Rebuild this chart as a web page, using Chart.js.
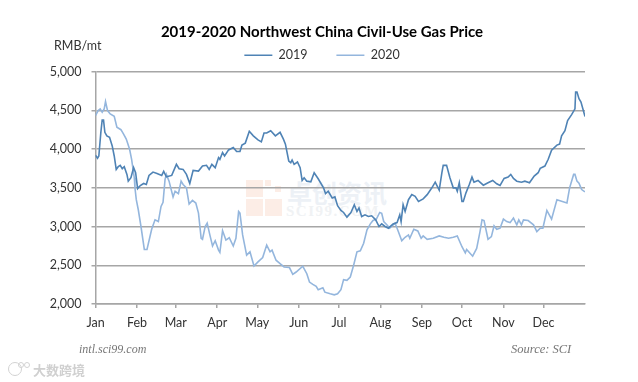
<!DOCTYPE html>
<html>
<head>
<meta charset="utf-8">
<title>Northwest China Civil-Use Gas Price</title>
<script src="https://cdn.jsdelivr.net/npm/chart.js@4"></script>
<style>
  html, body { margin: 0; padding: 0; background: #fff; }
  #wrap { position: relative; width: 638px; height: 382px; overflow: hidden; font-family: Lato, sans-serif; }
  #wrap canvas { position: absolute; left: 0; top: 0; }
  .abs { position: absolute; white-space: nowrap; }
  .block { position: absolute; background: #fcede6; }
  .ring { position: absolute; border: 1.5px solid #d2d2d2; border-radius: 50%; box-sizing: border-box; }
</style>
</head>
<body>
<div id="wrap">
  <!-- faint watermark sits under the canvas -->
  <div class="block" style="left:246px;top:180px;width:17px;height:17px"></div>
  <div class="block" style="left:246px;top:199px;width:17px;height:17px"></div>
  <div class="block" style="left:265px;top:199px;width:17px;height:17px"></div>
  <div class="block" style="left:265px;top:180px;width:6px;height:6px"></div>
  <div class="block" style="left:275px;top:186px;width:6px;height:6px"></div>
  <div class="abs" style="left:287px;top:174px;font:bold 25px 'Noto Sans CJK SC';color:#edf1f6">卓创资讯</div>
  <div class="abs" style="left:286px;top:203px;font:bold 15px 'Liberation Serif';letter-spacing:1.5px;color:#f0f2f4">SCI99.COM</div>
  <canvas id="chart" width="638" height="382"></canvas>
  <div class="abs" style="left:54px;top:38px;font-size:12.5px;color:#333">RMB/mt</div>
  <div class="abs" style="left:79px;top:342px;font:italic 12px 'Liberation Serif';color:#777">intl.sci99.com</div>
  <div class="abs" style="left:511px;top:342px;font:italic 12.5px 'Liberation Serif';color:#777">Source: SCI</div>
  <div class="ring" style="left:8px;top:362px;width:14px;height:14px"></div>
  <div class="ring" style="left:18px;top:362px;width:6px;height:6px"></div>
  <div class="ring" style="left:24px;top:362px;width:6px;height:6px"></div>
  <div class="abs" style="left:33px;top:360px;font:bold 13px 'Noto Sans CJK SC';color:#d0d0d0">大数跨境</div>
</div>
<script>
  var MONTHS = ['Jan', 'Feb', 'Mar', 'Apr', 'May', 'Jun', 'Jul', 'Aug', 'Sep', 'Oct', 'Nov', 'Dec'];
  var MONTH_START = [0, 31, 60, 91, 121, 152, 182, 213, 244, 274, 305, 335];
  var Y_TICKS = [2000, 2500, 3000, 3500, 4000, 4500, 5000];

  // day of year
  var DAYS_2019 = [0, 1.5, 2.5, 4, 5, 6, 7, 8.5, 10.5, 12.5, 14, 15.5, 17, 18.5, 20, 21.5, 23.5, 24.5, 26.5, 28.5, 30, 31.5, 33.5, 36, 38, 40, 43, 46, 49.5, 51, 53, 57, 60.5, 62.5, 65.5, 68, 70.5, 73, 77, 80, 83, 85, 87, 89.5, 92, 93, 95, 96.5, 99.5, 103, 105.5, 108, 109.5, 112, 115, 118, 121.5, 124, 126, 128, 131, 134.5, 138, 140.5, 142, 144.5, 146, 147, 148.5, 151, 153, 154.5, 156, 158, 161, 163.5, 166.5, 170.5, 172, 174, 177, 179, 181, 183.5, 185.5, 188, 191, 193.5, 195.5, 197, 199, 201.5, 204, 206.5, 209.5, 212, 214, 216.5, 219, 222.5, 225.5, 227.5, 228.5, 230, 231.5, 234, 236.5, 239, 241.5, 245, 248, 251.5, 254, 257, 259, 260, 262.5, 265, 267.5, 269.5, 270.5, 272, 274, 275, 277, 279.5, 281.5, 283, 286, 290, 293.5, 297, 300, 302.5, 305.5, 308.5, 310.5, 312.5, 315, 318.5, 321, 324.5, 328, 331, 332.5, 336, 338.5, 341, 345, 347, 348.5, 351, 353, 356, 358.5, 359, 360, 361.5, 363, 366];
  var PRICE_2019 = [3919, 3880, 3910, 4215, 4375, 4375, 4215, 4170, 4150, 4040, 3910, 3737, 3772, 3790, 3746, 3772, 3672, 3585, 3630, 3760, 3694, 3490, 3529, 3555, 3542, 3659, 3702, 3685, 3659, 3711, 3642, 3659, 3802, 3746, 3737, 3672, 3555, 3724, 3715, 3780, 3790, 3737, 3802, 3759, 3889, 3867, 3954, 3910, 3988, 4020, 3967, 3967, 4050, 4076, 4228, 4170, 4118, 4092, 4206, 4206, 4236, 4170, 4215, 4128, 4063, 3845, 3824, 3858, 3802, 3832, 3759, 3594, 3629, 3585, 3576, 3694, 3616, 3499, 3425, 3455, 3369, 3382, 3268, 3207, 3181, 3121, 3181, 3281, 3194, 3238, 3129, 3151, 3129, 3138, 3086, 3000, 3034, 3000, 2978, 3034, 3051, 3151, 3064, 3281, 3194, 3346, 3411, 3390, 3324, 3356, 3411, 3499, 3572, 3468, 3694, 3789, 3789, 3629, 3499, 3499, 3455, 3564, 3324, 3324, 3434, 3541, 3637, 3572, 3594, 3533, 3564, 3594, 3551, 3529, 3620, 3637, 3672, 3620, 3585, 3572, 3585, 3564, 3650, 3694, 3750, 3780, 3867, 3984, 4050, 4063, 4170, 4236, 4366, 4444, 4518, 4736, 4736, 4648, 4605, 4418];

  var DAYS_2020 = [0, 2, 3.5, 5, 6.5, 7.5, 9, 11, 14, 16, 19, 21, 23, 25.5, 27, 29, 29.5, 30.5, 32, 34, 36.5, 38.5, 41, 42, 44.5, 47, 49, 50.5, 52, 53, 55, 58, 59.5, 62, 64, 65.5, 68, 70, 72.5, 75, 77, 79, 80, 82, 83.5, 85.5, 87.5, 89.5, 92, 93, 95, 97.5, 100, 103, 105, 107, 108, 110, 112, 113, 115.5, 118.5, 121.5, 125, 128, 130.5, 132, 135, 138, 141, 145, 147.5, 150, 155, 158, 160, 162.5, 165, 166.5, 170, 171.5, 175.5, 178.5, 181, 183.5, 185.5, 188, 190.5, 193, 195.5, 198, 200.5, 203, 205.5, 207.5, 210, 212.5, 214, 215.5, 218, 220, 224, 225.5, 229, 231.5, 234, 235, 238, 241, 243.5, 245, 248, 252.5, 257, 260.5, 264, 267.5, 270.5, 274, 276.5, 277.5, 282, 285, 287.5, 289, 290.5, 293.5, 296, 298, 300, 302.5, 305, 307.5, 310, 312.5, 315, 316.5, 318.5, 320, 323.5, 327.5, 330, 332.5, 334.5, 337.5, 341, 345, 352.5, 354.5, 357.5, 358.5, 360, 361.5, 363.5, 366];
  var PRICE_2020 = [4431, 4496, 4518, 4475, 4518, 4613, 4496, 4453, 4423, 4280, 4249, 4193, 4128, 3997, 3867, 3629, 3500, 3346, 3216, 3000, 2704, 2704, 2891, 2965, 3086, 3064, 3259, 3311, 3607, 3672, 3585, 3381, 3455, 3425, 3585, 3542, 3499, 3290, 3337, 3303, 3173, 2848, 2835, 3000, 3043, 2891, 2748, 2817, 2696, 2666, 2947, 2825, 2855, 2748, 2848, 3194, 3173, 2891, 2717, 2630, 2673, 2490, 2543, 2600, 2760, 2673, 2695, 2565, 2522, 2478, 2470, 2383, 2413, 2487, 2391, 2283, 2253, 2227, 2184, 2210, 2153, 2131, 2118, 2131, 2184, 2314, 2305, 2348, 2500, 2673, 2686, 2783, 2956, 3034, 3077, 3095, 3181, 3170, 3064, 3020, 2978, 3043, 2978, 2817, 2861, 2891, 2848, 2965, 2943, 2848, 2878, 2835, 2848, 2878, 2861, 2848, 2861, 2878, 2739, 2661, 2704, 2617, 2717, 2934, 3086, 3077, 2835, 2869, 3008, 2965, 2978, 3095, 3064, 3050, 3108, 3021, 3086, 3021, 3086, 3077, 3021, 2934, 2978, 2978, 3207, 3095, 3346, 3304, 3499, 3672, 3672, 3585, 3560, 3477, 3447];

  function toPoints(days, values) {
    return days.map(function (d, i) { return { x: d, y: values[i] }; });
  }

  var GRID = '#a6a6a6';
  var TEXT = '#333';

  new Chart(document.getElementById('chart'), {
    type: 'line',
    data: {
      datasets: [
        { label: '2019', data: toPoints(DAYS_2019, PRICE_2019), borderColor: '#4f83b5', borderWidth: 1.6, pointRadius: 0, tension: 0 },
        { label: '2020', data: toPoints(DAYS_2020, PRICE_2020), borderColor: '#94b6dd', borderWidth: 1.6, pointRadius: 0, tension: 0 }
      ]
    },
    options: {
      responsive: false,
      animation: false,
      layout: { padding: { top: 23, right: 0, bottom: 48, left: 6 } },
      plugins: {
        tooltip: { enabled: false },
        title: {
          display: true,
          text: '2019-2020 Northwest China Civil-Use Gas Price',
          color: '#000',
          font: { family: 'Lato', size: 15, weight: 'bold' },
          padding: { top: 0, bottom: -8 }
        },
        legend: {
          position: 'top',
          labels: {
            color: TEXT,
            font: { family: 'Lato', size: 12.5 },
            usePointStyle: true,
            pointStyle: 'line',
            pointStyleWidth: 28,
            padding: 16,
            // trailing spaces open the gap between the two entries
            generateLabels: function (chart) {
              var items = Chart.defaults.plugins.legend.labels.generateLabels(chart);
              items[0].text += '    ';
              return items;
            }
          }
        }
      },
      scales: {
        x: {
          type: 'linear',
          min: 0,
          max: 366,
          afterBuildTicks: function (scale) {
            scale.ticks = MONTH_START.map(function (d) { return { value: d }; });
          },
          afterFit: function (scale) { scale.height = 30; },
          grid: { drawOnChartArea: false, color: GRID, lineWidth: 1.5, tickLength: 4 },
          border: { color: GRID, width: 1.5 },
          ticks: {
            color: TEXT,
            font: { family: 'Lato', size: 12.5 },
            autoSkip: false,
            maxRotation: 0,
            padding: 7,
            callback: function (v) { return MONTHS[MONTH_START.indexOf(v)]; }
          }
        },
        y: {
          min: 2000,
          max: 5000,
          afterBuildTicks: function (scale) {
            scale.ticks = Y_TICKS.map(function (v) { return { value: v }; });
          },
          afterFit: function (scale) { scale.width = 89.5; },
          grid: { color: GRID, lineWidth: 1.5, tickLength: 4 },
          border: { color: GRID, width: 1.5 },
          ticks: {
            color: TEXT,
            font: { family: 'Lato', size: 12.5 },
            padding: 10,
            callback: function (v) { return v.toLocaleString('en-US'); }
          }
        },
        // empty right axis keeps the plot narrower while title and legend centre on the page
        spacer: {
          position: 'right',
          afterFit: function (scale) { scale.width = 53; },
          grid: { display: false },
          border: { display: false },
          ticks: { display: false }
        }
      }
    }
  });
</script>
</body>
</html>
